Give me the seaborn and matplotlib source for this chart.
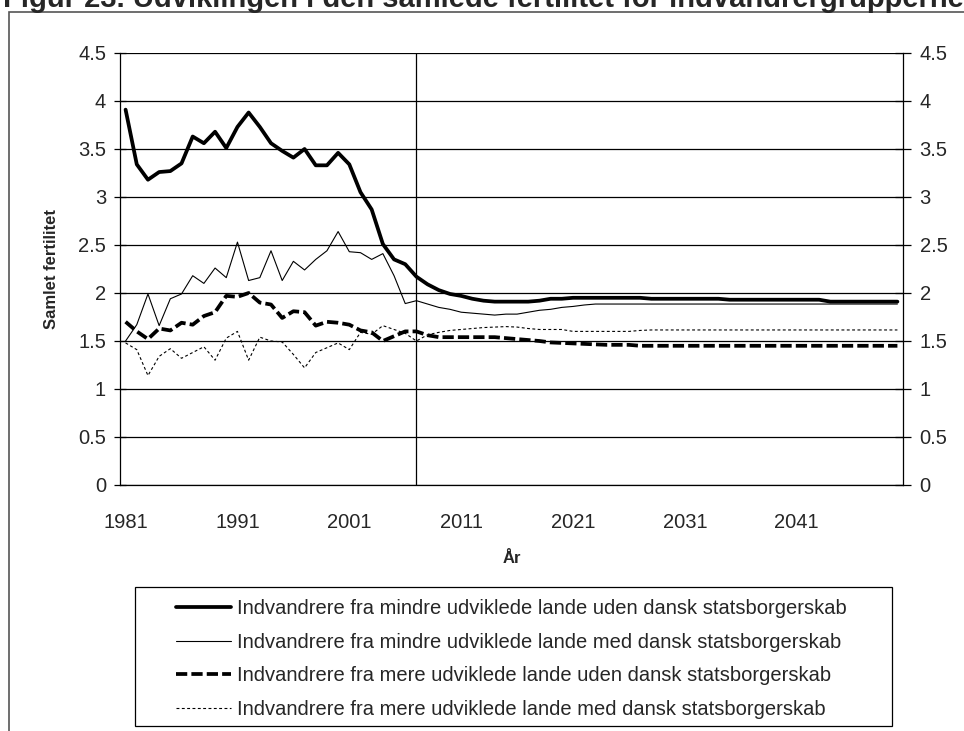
import numpy as np
import pandas as pd
import matplotlib
matplotlib.use("Agg")
import matplotlib.pyplot as plt
from matplotlib.patches import Rectangle
import seaborn as sns

years = list(range(1981, 2051))

# Indvandrere fra mindre udviklede lande uden dansk statsborgerskab
mindre_uden = [3.91, 3.34, 3.18, 3.26, 3.27, 3.35, 3.63, 3.56, 3.68, 3.51,
               3.73, 3.88, 3.73, 3.56, 3.48, 3.41, 3.50, 3.33, 3.33, 3.46,
               3.34, 3.05, 2.87, 2.51, 2.35, 2.30, 2.17, 2.09, 2.03, 1.99,
               1.97, 1.94, 1.92, 1.91, 1.91, 1.91, 1.91, 1.92, 1.94, 1.94] \
    + [1.95] * 7 + [1.94] * 7 + [1.93] * 9 + [1.91] * 7

# Indvandrere fra mindre udviklede lande med dansk statsborgerskab
mindre_med = [1.50, 1.67, 1.99, 1.66, 1.94, 1.99, 2.18, 2.10, 2.26, 2.16,
              2.53, 2.13, 2.16, 2.44, 2.13, 2.33, 2.24, 2.35, 2.44, 2.64,
              2.43, 2.42, 2.35, 2.41, 2.18, 1.89, 1.92, 1.885, 1.85, 1.83,
              1.80, 1.79, 1.78, 1.77, 1.78, 1.78, 1.80, 1.82, 1.83, 1.85,
              1.86, 1.875] + [1.885] * 28

# Indvandrere fra mere udviklede lande uden dansk statsborgerskab
mere_uden = [1.70, 1.60, 1.52, 1.63, 1.61, 1.69, 1.67, 1.76, 1.80, 1.97,
             1.96, 2.00, 1.90, 1.88, 1.74, 1.81, 1.80, 1.66, 1.70, 1.69,
             1.67, 1.61, 1.59, 1.50, 1.55, 1.60, 1.60, 1.56] \
    + [1.54] * 6 + [1.53, 1.52, 1.51, 1.50, 1.485, 1.48, 1.475, 1.47, 1.465,
                    1.46, 1.46, 1.46] + [1.45] * 24

# Indvandrere fra mere udviklede lande med dansk statsborgerskab
mere_med = [1.48, 1.41, 1.14, 1.34, 1.42, 1.32, 1.38, 1.44, 1.30, 1.53,
            1.60, 1.30, 1.54, 1.50, 1.49, 1.36, 1.22, 1.38, 1.43, 1.48,
            1.41, 1.59, 1.57, 1.66, 1.62, 1.58, 1.50, 1.565, 1.59, 1.61,
            1.62, 1.63, 1.64, 1.645, 1.65, 1.645, 1.63, 1.62, 1.62, 1.62] \
    + [1.60] * 6 + [1.61] + [1.615] * 23

labels = ["Indvandrere fra mindre udviklede lande uden dansk statsborgerskab",
          "Indvandrere fra mindre udviklede lande med dansk statsborgerskab",
          "Indvandrere fra mere udviklede lande uden dansk statsborgerskab",
          "Indvandrere fra mere udviklede lande med dansk statsborgerskab"]
series = [mindre_uden, mindre_med, mere_uden, mere_med]
year_labels = [1981, 1991, 2001, 2011, 2021, 2031, 2041]
y_ticks = [0, 0.5, 1, 1.5, 2, 2.5, 3, 3.5, 4, 4.5]
projection_start = 2007

sns.set_style("white")
plt.rcParams["font.family"] = ["Liberation Sans", "DejaVu Sans"]

W, H = 964, 731
fig = plt.figure(figsize=(W / 100, H / 100), dpi=100)
ax = fig.add_axes([120 / W, 1 - 485 / H, 783 / W, 432 / H])

styles = [dict(linewidth=2.7, linestyle="-"),
          dict(linewidth=0.8, linestyle="-"),
          dict(linewidth=2.7, linestyle=(0, (3.0, 1.1))),
          dict(linewidth=0.8, linestyle=(0, (2.6, 2.2)))]

for vals, lab, st in zip(series, labels, styles):
    df = pd.DataFrame({"year": years, "value": vals})
    sns.lineplot(data=df, x="year", y="value", ax=ax, color="black",
                 label=lab, **st)

ax.axvline(projection_start, color="black", linewidth=0.9, zorder=1)

ax.set_xlim(1980.5, 2050.5)
ax.set_ylim(0, 4.5)
ax.set_yticks(y_ticks)
ax.set_yticklabels([f"{v:g}" for v in y_ticks])
ax.set_xticks(year_labels)
ax.set_xticklabels([str(y) for y in year_labels])
ax.set_xticks(np.arange(1980.5, 2051, 5), minor=True)
ax.tick_params(axis="x", which="major", length=0, pad=20, labelsize=14.5)
ax.tick_params(axis="x", which="minor", length=6, width=0.9, direction="out",
               color="black")
ax.tick_params(axis="y", length=8, width=0.9, direction="inout",
               color="black", labelsize=14.5, pad=6)
ax.yaxis.grid(True, color="black", linewidth=0.9)
ax.set_axisbelow(True)
for s in ["left", "bottom", "right", "top"]:
    ax.spines[s].set_color("black")
    ax.spines[s].set_linewidth(0.9)
ax.spines["top"].set_visible(False)

ax.set_xlabel("År", fontsize=12, fontweight="bold", labelpad=14)
ax.set_ylabel("Samlet fertilitet", fontsize=12, fontweight="bold", labelpad=14)

ax2 = ax.twinx()
ax2.set_ylim(0, 4.5)
ax2.set_yticks(y_ticks)
ax2.set_yticklabels([f"{v:g}" for v in y_ticks])
ax2.tick_params(axis="y", length=12, width=0.9, direction="inout",
                color="black", labelsize=14.5, pad=6)
for s in ax2.spines.values():
    s.set_visible(False)

handles, labs = ax.get_legend_handles_labels()
ax.get_legend().remove()
fig.legend(handles, labs, loc="upper left",
           bbox_to_anchor=(168 / W, 1 - 591 / H), frameon=False,
           fontsize=14.5, handlelength=2.75, handletextpad=0.3,
           labelspacing=0.72, borderaxespad=0)
fig.patches.append(Rectangle((135 / W, 1 - 726 / H), 757 / W, 139 / H,
                             transform=fig.transFigure, fill=False,
                             edgecolor="black", linewidth=0.9))
fig.patches.append(Rectangle((9 / W, -0.05), 1.1, 1.05 - 12 / H,
                             transform=fig.transFigure, fill=False,
                             edgecolor="#555555", linewidth=1.2))

fig.text(3 / W, 1 - 7 / H,
         "Figur 23. Udviklingen i den samlede fertilitet for indvandrergrupperne",
         fontsize=21, fontweight="bold", va="baseline", ha="left")

fig.savefig("out.png", dpi=100)
